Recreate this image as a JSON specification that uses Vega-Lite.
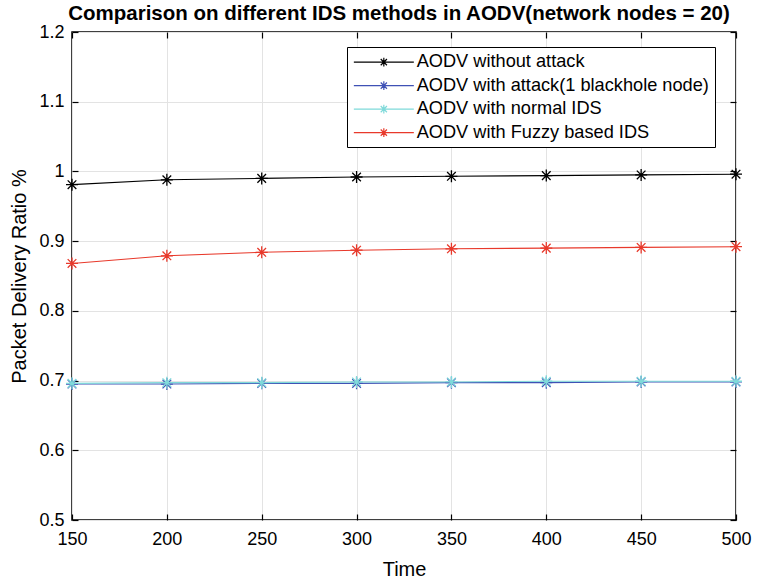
{
  "$schema": "https://vega.github.io/schema/vega-lite/v6.json",
  "width": 664,
  "height": 488,
  "autosize": {"type": "none"},
  "padding": {"left": 72, "top": 32, "right": 31, "bottom": 62},
  "background": "white",
  "title": {"text": "Comparison on different IDS methods in AODV(network nodes = 20)", "font": "Liberation Sans", "fontSize": 20.5, "fontWeight": "bold", "color": "black", "anchor": "middle", "offset": -1, "dx": -5},
  "config": {
    "view": {"stroke": "black", "strokeWidth": 1.5},
    "axis": {"labelFont": "Liberation Sans", "labelFontSize": 18, "labelColor": "black", "labelFlush": false, "titleFont": "Liberation Sans", "titleFontSize": 20, "titleFontWeight": "normal", "titleColor": "black", "domain": false, "tickColor": "black", "tickSize": -6, "tickWidth": 1.2, "gridColor": "#e3e3e3", "gridWidth": 1}
  },
  "data": {"values": [
    {"t":150,"v":0.981,"s":"AODV without attack"},
    {"t":200,"v":0.988,"s":"AODV without attack"},
    {"t":250,"v":0.990,"s":"AODV without attack"},
    {"t":300,"v":0.992,"s":"AODV without attack"},
    {"t":350,"v":0.993,"s":"AODV without attack"},
    {"t":400,"v":0.994,"s":"AODV without attack"},
    {"t":450,"v":0.995,"s":"AODV without attack"},
    {"t":500,"v":0.996,"s":"AODV without attack"},
    {"t":150,"v":0.695,"s":"AODV with attack(1 blackhole node)"},
    {"t":200,"v":0.695,"s":"AODV with attack(1 blackhole node)"},
    {"t":250,"v":0.696,"s":"AODV with attack(1 blackhole node)"},
    {"t":300,"v":0.696,"s":"AODV with attack(1 blackhole node)"},
    {"t":350,"v":0.697,"s":"AODV with attack(1 blackhole node)"},
    {"t":400,"v":0.697,"s":"AODV with attack(1 blackhole node)"},
    {"t":450,"v":0.698,"s":"AODV with attack(1 blackhole node)"},
    {"t":500,"v":0.698,"s":"AODV with attack(1 blackhole node)"},
    {"t":150,"v":0.696,"s":"AODV with normal IDS"},
    {"t":200,"v":0.697,"s":"AODV with normal IDS"},
    {"t":250,"v":0.697,"s":"AODV with normal IDS"},
    {"t":300,"v":0.698,"s":"AODV with normal IDS"},
    {"t":350,"v":0.698,"s":"AODV with normal IDS"},
    {"t":400,"v":0.699,"s":"AODV with normal IDS"},
    {"t":450,"v":0.699,"s":"AODV with normal IDS"},
    {"t":500,"v":0.699,"s":"AODV with normal IDS"},
    {"t":150,"v":0.868,"s":"AODV with Fuzzy based IDS"},
    {"t":200,"v":0.879,"s":"AODV with Fuzzy based IDS"},
    {"t":250,"v":0.884,"s":"AODV with Fuzzy based IDS"},
    {"t":300,"v":0.887,"s":"AODV with Fuzzy based IDS"},
    {"t":350,"v":0.889,"s":"AODV with Fuzzy based IDS"},
    {"t":400,"v":0.890,"s":"AODV with Fuzzy based IDS"},
    {"t":450,"v":0.891,"s":"AODV with Fuzzy based IDS"},
    {"t":500,"v":0.892,"s":"AODV with Fuzzy based IDS"}
  ]},
  "encoding": {
    "color": {"field": "s", "type": "nominal",
      "scale": {"domain": ["AODV without attack", "AODV with attack(1 blackhole node)", "AODV with normal IDS", "AODV with Fuzzy based IDS"], "range": ["#000000", "#3f51b5", "#7fdada", "#e8392b"]},
      "legend": {"title": null, "orient": "none", "legendX": 275, "legendY": 15, "direction": "vertical",
        "symbolType": "M-1.14,0L7.14,0M3,-0.6L3,0.6M2.4,0L3.6,0M2.57,-0.43L3.43,0.43M2.57,0.43L3.43,-0.43",
        "symbolSize": 210, "symbolStrokeWidth": 1.2, "symbolFillColor": "transparent",
        "labelFont": "Liberation Sans", "labelFontSize": 18.2, "labelColor": "black", "labelOffset": 45.5, "labelLimit": 400,
        "rowPadding": 4.5, "padding": 6, "strokeColor": "black", "fillColor": "white", "cornerRadius": 0}
    }
  },
  "layer": [
    {
      "mark": {"type": "line", "strokeWidth": 1.1},
      "encoding": {
        "x": {"field": "t", "type": "quantitative", "title": "Time", "scale": {"domain": [150, 500], "nice": false}, "axis": {"values": [150,200,250,300,350,400,450,500], "labelPadding": 16, "titlePadding": 11, "grid": true}},
        "y": {"field": "v", "type": "quantitative", "title": "Packet Delivery Ratio %", "scale": {"domain": [0.5, 1.2], "nice": false, "zero": false}, "axis": {"values": [0.5,0.6,0.7,0.8,0.9,1.0,1.1,1.2], "labelExpr": "datum.value == 1 ? '1' : format(datum.value, '.1f')", "labelPadding": 14, "titlePadding": 9, "grid": true}}
      }
    },
    {
      "mark": {"type": "point", "shape": "M-1,0L1,0M0,-1L0,1M-0.72,-0.72L0.72,0.72M-0.72,0.72L0.72,-0.72", "filled": false, "size": 144, "strokeWidth": 1.3, "opacity": 1},
      "encoding": {
        "x": {"field": "t", "type": "quantitative", "scale": {"domain": [150, 500], "nice": false}, "axis": {"orient": "top", "values": [150,200,250,300,350,400,450,500], "labels": false, "grid": false, "title": null}},
        "y": {"field": "v", "type": "quantitative", "scale": {"domain": [0.5, 1.2], "nice": false, "zero": false}, "axis": {"orient": "right", "values": [0.5,0.6,0.7,0.8,0.9,1.0,1.1,1.2], "labels": false, "grid": false, "title": null}}
      }
    }
  ],
  "resolve": {"axis": {"x": "independent", "y": "independent"}}
}
